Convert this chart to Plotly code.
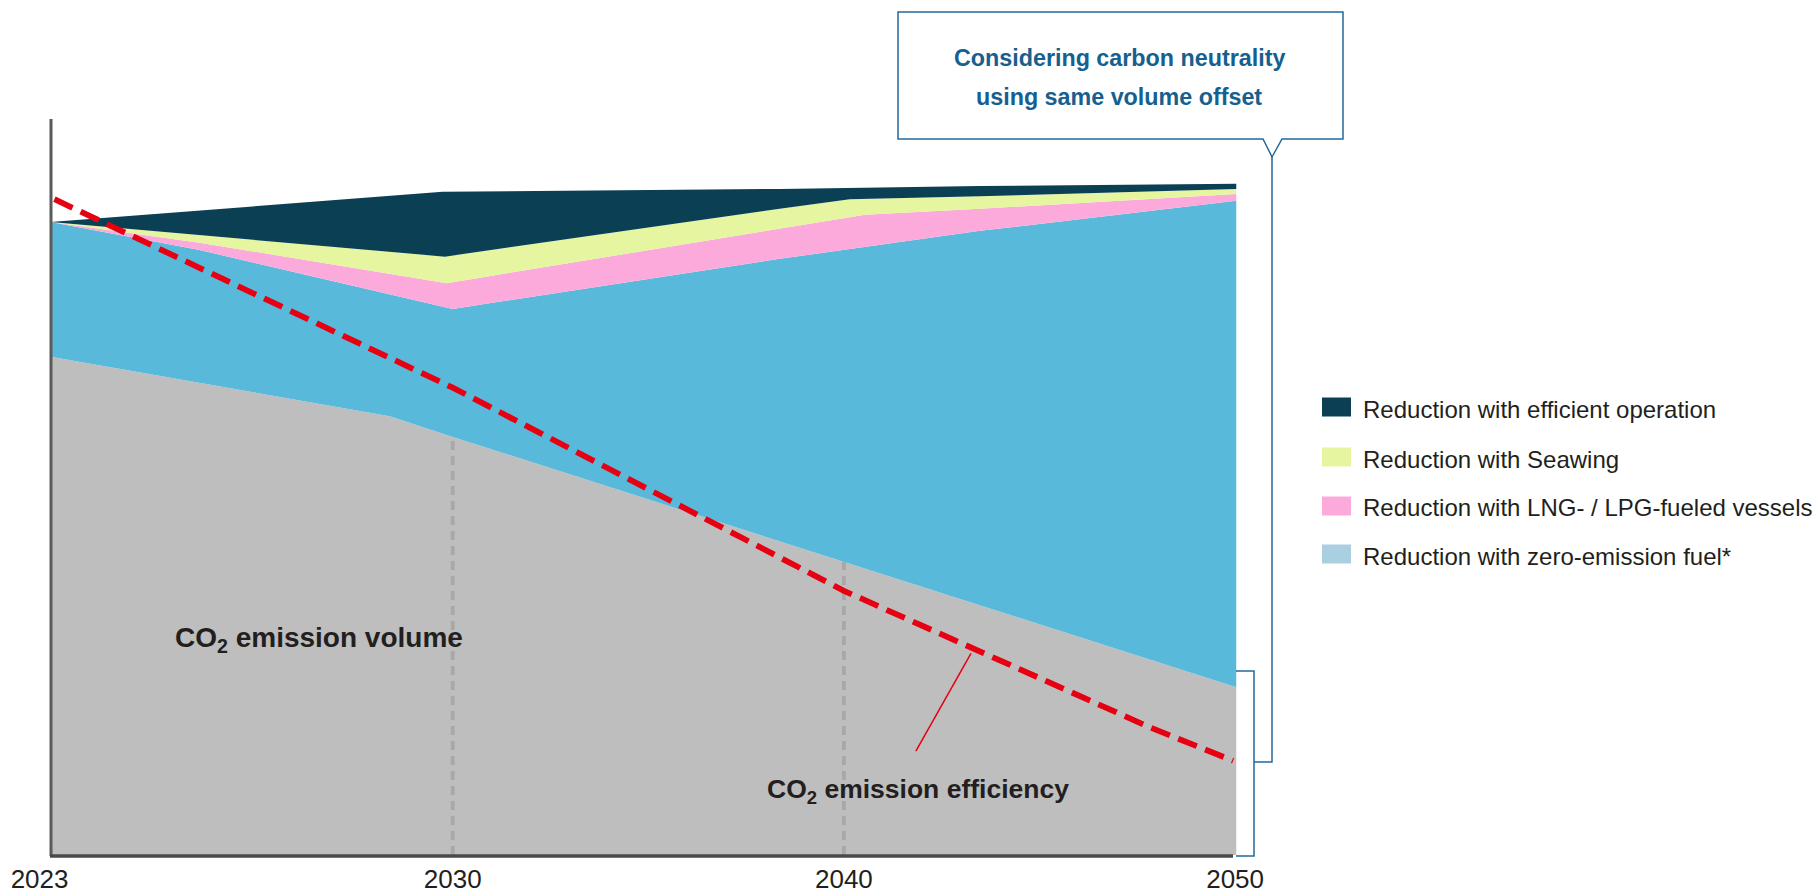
import numpy as np
import plotly.graph_objects as go

# Horizontal positions are schematic: 2030 -> 1, 2040 -> 2, 2050 -> 3
tick_pos = [-0.056, 1, 2, 3]
tick_years = ["2023", "2030", "2040", "2050"]

# Upper boundary of each stacked band (cumulative level, bottom band first)
volume_x = [-0.028, 0.839, 1.0, 2.0, 3.003]
volume_top = [67.7, 59.6, 56.8, 39.8, 22.8]

zero_fuel_x = [-0.028, 0.353, 1.0, 1.836, 2.348, 3.003]
zero_fuel_top = [86.0, 82.2, 74.2, 81.0, 84.8, 88.9]

lng_x = [-0.028, 0.353, 0.985, 1.836, 2.054, 2.348, 2.731, 3.003]
lng_top = [86.0, 83.2, 77.7, 85.1, 87.0, 87.8, 89.0, 89.8]

seawing_x = [-0.028, 0.353, 0.980, 1.836, 2.015, 2.348, 2.731, 3.003]
seawing_top = [86.0, 84.2, 81.3, 87.8, 89.1, 89.5, 90.1, 90.5]

operation_x = [-0.028, 0.974, 1.836, 2.348, 3.003]
operation_top = [86.0, 90.1, 90.5, 90.9, 91.2]

# CO2 emission efficiency path
efficiency_x = [-0.018, 1.0, 2.0, 2.78, 2.995]
efficiency = [89.1, 63.5, 35.9, 17.4, 12.8]

legend_labels = [
    "Reduction with efficient operation",
    "Reduction with Seawing",
    "Reduction with LNG- / LPG-fueled vessels",
    "Reduction with zero-emission fuel*",
]
legend_colors = ["#0b4054", "#e6f59f", "#fbaadb", "#a9cfe0"]

GRAY = "#bebebe"
BLUE = "#59b9da"
PINK = "#fbaadb"
YELLOW = "#e6f59f"
NAVY = "#0b4054"
RED = "#e60012"
FRAME = "#22699c"
TEXT = "#231f20"
FONT = "Liberation Sans, Arial, sans-serif"

# plot-area geometry in pixels
L, T, W, H = 38, 119, 1201, 736
FIG_W, FIG_H = 1813, 893


def px(xp):
    return (xp - L) / W


def py(yp):
    return (T + H - yp) / H


fig = go.Figure()

bands = [
    (volume_x, volume_top, GRAY, "tozeroy"),
    (zero_fuel_x, zero_fuel_top, BLUE, "tonexty"),
    (lng_x, lng_top, PINK, "tonexty"),
    (seawing_x, seawing_top, YELLOW, "tonexty"),
    (operation_x, operation_top, NAVY, "tonexty"),
]
for bx, by, color, fill in bands:
    fig.add_trace(go.Scatter(
        x=bx, y=by, mode="lines", line=dict(width=0, color=color),
        fill=fill, fillcolor=color, hoverinfo="skip", showlegend=False,
    ))

# dashed guides at 2030 and 2040 up to the emission volume boundary
for gx in (1.0, 2.0):
    top = float(np.interp(gx, volume_x, volume_top))
    fig.add_trace(go.Scatter(
        x=[gx, gx], y=[0, top], mode="lines",
        line=dict(color="#a8a8a8", width=3.8, dash="9px,6px"),
        hoverinfo="skip", showlegend=False,
    ))

# efficiency line
fig.add_trace(go.Scatter(
    x=efficiency_x, y=efficiency, mode="lines",
    line=dict(color=RED, width=5.8, dash="20px,9px"),
    hoverinfo="skip", showlegend=False,
))

# leader from the label to the efficiency line
lead_x = 2.325
lead_y = float(np.interp(lead_x, efficiency_x, efficiency)) - 0.8
fig.add_trace(go.Scatter(
    x=[2.184, lead_x], y=[14.1, lead_y], mode="lines",
    line=dict(color=RED, width=1.5),
    hoverinfo="skip", showlegend=False,
))

shapes = []
# axis lines
shapes.append(dict(type="line", xref="paper", yref="paper",
                   x0=px(51), x1=px(51), y0=py(119), y1=py(856),
                   line=dict(color="#5a5a5a", width=3)))
shapes.append(dict(type="line", xref="paper", yref="paper",
                   x0=px(50), x1=px(1233), y0=py(856), y1=py(856),
                   line=dict(color="#4a4a4a", width=3.5)))

# callout box with pointer
pts = [(898, 12), (1343, 12), (1343, 139), (1282, 139), (1272, 157),
       (1263, 139), (898, 139)]
path = "M " + " L ".join(f"{px(a):.5f},{py(b):.5f}" for a, b in pts) + " Z"
shapes.append(dict(type="path", xref="paper", yref="paper", path=path,
                   fillcolor="white", line=dict(color=FRAME, width=1.5)))
# outer bracket
br = [(1272, 157), (1272, 762), (1254, 762)]
shapes.append(dict(type="path", xref="paper", yref="paper",
                   path="M " + " L ".join(f"{px(a):.5f},{py(b):.5f}" for a, b in br),
                   line=dict(color=FRAME, width=1.5)))
# inner bracket
br2 = [(1236, 671), (1254, 671), (1254, 856), (1236, 856)]
shapes.append(dict(type="path", xref="paper", yref="paper",
                   path="M " + " L ".join(f"{px(a):.5f},{py(b):.5f}" for a, b in br2),
                   line=dict(color=FRAME, width=1.5)))

annotations = [
    dict(x=px(1119), y=py(58), text="Considering carbon neutrality"),
    dict(x=px(1119), y=py(97), text="using same volume offset"),
]
for a in annotations:
    a.update(xref="paper", yref="paper", showarrow=False,
             xanchor="center", yanchor="middle",
             font=dict(family=FONT, size=23.3, color="#16608f", weight="bold"))

annotations.append(dict(
    x=px(173), y=py(639), xref="paper", yref="paper", showarrow=False,
    xanchor="left", yanchor="middle", text="CO<sub>2</sub> emission volume",
    font=dict(family=FONT, size=28, color=TEXT, weight="bold")))
annotations.append(dict(
    x=px(765), y=py(791), xref="paper", yref="paper", showarrow=False,
    xanchor="left", yanchor="middle", text="CO<sub>2</sub> emission efficiency",
    font=dict(family=FONT, size=26.5, color=TEXT, weight="bold")))

# legend
row_y = [407, 457, 506, 554]
for label, color, ry in zip(legend_labels, legend_colors, row_y):
    shapes.append(dict(type="rect", xref="paper", yref="paper",
                       x0=px(1322), x1=px(1351), y0=py(ry - 9.5), y1=py(ry + 9.5),
                       fillcolor=color, line=dict(width=0)))
    annotations.append(dict(
        x=px(1361), y=py(ry + 2), xref="paper", yref="paper", showarrow=False,
        xanchor="left", yanchor="middle", text=label,
        font=dict(family=FONT, size=24, color=TEXT)))

fig.update_layout(
    width=FIG_W, height=FIG_H,
    margin=dict(l=L, r=FIG_W - L - W, t=T, b=FIG_H - T - H),
    paper_bgcolor="white", plot_bgcolor="white",
    showlegend=False,
    shapes=shapes, annotations=annotations,
    xaxis=dict(range=[-0.06, 3.01], tickvals=tick_pos, ticktext=tick_years,
               showgrid=False, zeroline=False, showline=False, ticks="",
               tickfont=dict(family=FONT, size=26, color=TEXT),
               ticklabelstandoff=6, automargin=False, fixedrange=True),
    yaxis=dict(range=[0, 100], showgrid=False, zeroline=False, showline=False,
               showticklabels=False, ticks="", automargin=False, fixedrange=True),
)

fig.write_html("out.html", config={"displayModeBar": False})
